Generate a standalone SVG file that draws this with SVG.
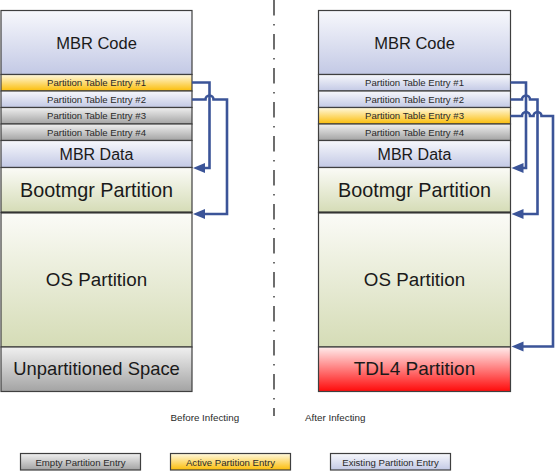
<svg xmlns="http://www.w3.org/2000/svg" width="555" height="471" viewBox="0 0 555 471">
<style>
.box{stroke:#3f3f3f;stroke-width:1.2}
.big{font-family:"Liberation Sans",Arial,sans-serif;fill:#1a1a1a;text-anchor:middle}
.sm{font-family:"Liberation Sans",Arial,sans-serif;fill:#2a2a2a;text-anchor:middle;font-size:9.6px}
.cap{font-family:"Liberation Sans",Arial,sans-serif;fill:#2a2a2a;font-size:9.8px}
.conn{fill:none;stroke:#3b5498;stroke-width:2.6;marker-end:url(#ah)}
</style>
<defs>
<linearGradient id="gBlue" x1="0" y1="0" x2="0" y2="1"><stop offset="0" stop-color="#f7f8fc"/><stop offset="1" stop-color="#c3c9e5"/></linearGradient>
<linearGradient id="gGold" x1="0" y1="0" x2="0" y2="1"><stop offset="0" stop-color="#fff9e0"/><stop offset="1" stop-color="#fbbd08"/></linearGradient>
<linearGradient id="gGray" x1="0" y1="0" x2="0" y2="1"><stop offset="0" stop-color="#f0f0f0"/><stop offset="1" stop-color="#a3a3a3"/></linearGradient>
<linearGradient id="gGreen" x1="0" y1="0" x2="0" y2="1"><stop offset="0" stop-color="#fbfbf7"/><stop offset="1" stop-color="#d5dcb6"/></linearGradient>
<linearGradient id="gRed" x1="0" y1="0" x2="0" y2="1"><stop offset="0" stop-color="#ffecec"/><stop offset="1" stop-color="#ff0a0a"/></linearGradient>
<marker id="ah" markerUnits="userSpaceOnUse" markerWidth="13" markerHeight="11" refX="6" refY="5" orient="auto"><path d="M0,0 L12,5 L0,10 Z" fill="#3b5498"/></marker>
</defs>

<g id="before">
<g id="b-mbrcode"><rect class="box" x="1" y="10.5" width="191" height="64" fill="url(#gBlue)"/><text class="big" x="96.5" y="48.5" font-size="16.5">MBR Code</text></g>
<g id="b-pte1"><rect class="box" x="1" y="74.5" width="191" height="16.5" fill="url(#gGold)"/><text class="sm" x="96.5" y="86">Partition Table Entry #1</text></g>
<g id="b-pte2"><rect class="box" x="1" y="91" width="191" height="16.5" fill="url(#gBlue)"/><text class="sm" x="96.5" y="102.5">Partition Table Entry #2</text></g>
<g id="b-pte3"><rect class="box" x="1" y="107.5" width="191" height="16.5" fill="url(#gGray)"/><text class="sm" x="96.5" y="119">Partition Table Entry #3</text></g>
<g id="b-pte4"><rect class="box" x="1" y="124" width="191" height="16.5" fill="url(#gGray)"/><text class="sm" x="96.5" y="135.5">Partition Table Entry #4</text></g>
<g id="b-mbrdata"><rect class="box" x="1" y="140.5" width="191" height="27" fill="url(#gBlue)"/><text class="big" x="96.5" y="159.5" font-size="16">MBR Data</text></g>
<g id="b-bootmgr"><rect class="box" x="1" y="167.5" width="191" height="45" fill="url(#gGreen)"/><text class="big" x="96.5" y="196.5" font-size="19.8">Bootmgr Partition</text></g>
<g id="b-os"><rect class="box" x="1" y="212.5" width="191" height="134.5" fill="url(#gGreen)"/><text class="big" x="96.5" y="285.5" font-size="18.8">OS Partition</text></g>
<g id="b-unpart"><rect class="box" x="1" y="347" width="191" height="44.5" fill="url(#gGray)"/><text class="big" x="96.5" y="374.5" font-size="18.4">Unpartitioned Space</text></g>
<line x1="1" y1="212.5" x2="192" y2="212.5" stroke="#333" stroke-width="2"/>
</g>

<g id="after">
<g id="a-mbrcode"><rect class="box" x="318.5" y="10.5" width="192" height="64" fill="url(#gBlue)"/><text class="big" x="414.5" y="48.5" font-size="16.5">MBR Code</text></g>
<g id="a-pte1"><rect class="box" x="318.5" y="74.5" width="192" height="16.5" fill="url(#gBlue)"/><text class="sm" x="414.5" y="86">Partition Table Entry #1</text></g>
<g id="a-pte2"><rect class="box" x="318.5" y="91" width="192" height="16.5" fill="url(#gBlue)"/><text class="sm" x="414.5" y="102.5">Partition Table Entry #2</text></g>
<g id="a-pte3"><rect class="box" x="318.5" y="107.5" width="192" height="16.5" fill="url(#gGold)"/><text class="sm" x="414.5" y="119">Partition Table Entry #3</text></g>
<g id="a-pte4"><rect class="box" x="318.5" y="124" width="192" height="16.5" fill="url(#gGray)"/><text class="sm" x="414.5" y="135.5">Partition Table Entry #4</text></g>
<g id="a-mbrdata"><rect class="box" x="318.5" y="140.5" width="192" height="27" fill="url(#gBlue)"/><text class="big" x="414.5" y="159.5" font-size="16">MBR Data</text></g>
<g id="a-bootmgr"><rect class="box" x="318.5" y="167.5" width="192" height="45" fill="url(#gGreen)"/><text class="big" x="414.5" y="196.5" font-size="19.8">Bootmgr Partition</text></g>
<g id="a-os"><rect class="box" x="318.5" y="212.5" width="192" height="134.5" fill="url(#gGreen)"/><text class="big" x="414.5" y="285.5" font-size="18.8">OS Partition</text></g>
<g id="a-tdl4"><rect class="box" x="318.5" y="347" width="192" height="44.5" fill="url(#gRed)"/><text class="big" x="414.5" y="374.5" font-size="19">TDL4 Partition</text></g>
<line x1="318.5" y1="212.5" x2="510.5" y2="212.5" stroke="#333" stroke-width="2"/>
</g>

<g id="connectors">
<path class="conn" d="M192,82.5 H209.5 V168 H199"/>
<path class="conn" d="M192,99.5 H205.5 A4,4 0 0 1 213.5,99.5 H227 V214 H199"/>
<path class="conn" d="M510.5,82.5 H526 V168 H517.5"/>
<path class="conn" d="M510.5,99.5 H522 A4,4 0 0 1 530,99.5 H537.5 V214 H517.5"/>
<path class="conn" d="M510.5,116 H522 A4,4 0 0 1 530,116 H533.5 A4,4 0 0 1 541.5,116 H553 V346.5 H517.5"/>
</g>

<g id="divider">
<line x1="274" y1="0" x2="274" y2="416" stroke="#4a4a4a" stroke-width="1.6" stroke-dasharray="15.5 8.5 1.5 8.5"/>
<text class="cap" x="170.5" y="420.5">Before Infecting</text>
<text class="cap" x="305" y="420.5">After Infecting</text>
</g>

<g id="legend">
<g id="leg-empty"><rect class="box" x="20.5" y="453.5" width="120" height="16.5" fill="url(#gGray)"/><text class="sm" x="80.5" y="465.5">Empty Partition Entry</text></g>
<g id="leg-active"><rect class="box" x="170.5" y="453.5" width="120" height="16.5" fill="url(#gGold)"/><text class="sm" x="230.5" y="465.5">Active Partition Entry</text></g>
<g id="leg-existing"><rect class="box" x="330.5" y="453.5" width="120" height="16.5" fill="url(#gBlue)"/><text class="sm" x="390.5" y="465.5">Existing Partition Entry</text></g>
</g>
</svg>
